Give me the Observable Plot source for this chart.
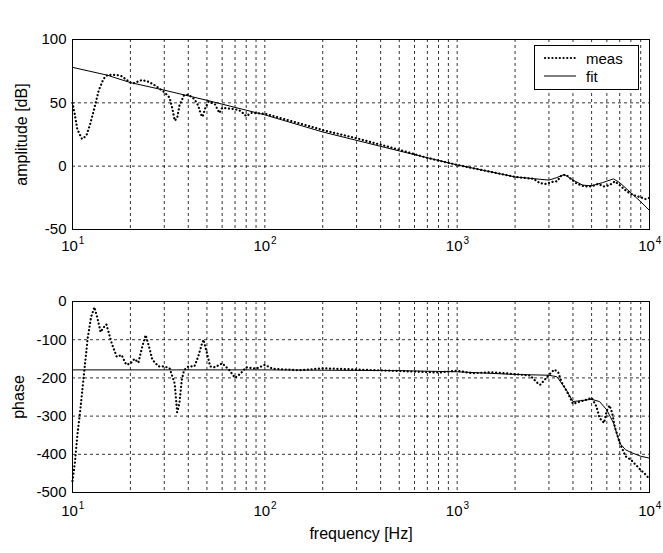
<!DOCTYPE html>
<html><head><meta charset="utf-8">
<script src="https://cdn.jsdelivr.net/npm/d3@7"></script>
<script src="https://cdn.jsdelivr.net/npm/@observablehq/plot@0.6"></script>
<style>
body{margin:0;background:#fff;font-family:"Liberation Sans",Arial,sans-serif;}
#wrap{position:relative;width:663px;height:553px;overflow:hidden;}
#title{position:absolute;top:3px;left:0;width:721px;text-align:center;font-size:15px;color:#000;}
#top,#bottom{position:absolute;left:0;}
#top{top:0;} #bottom{top:265px;}
#legend{position:absolute;left:534px;top:45px;width:103px;height:43px;border:1px solid #000;background:#fff;font-size:15px;}
#legend .row{position:absolute;left:9px;height:18px;display:flex;align-items:center;}
#legend span{margin-left:10px;}
</style></head>
<body><div id="wrap"><div id="title">CD system</div><div id="top"></div><div id="bottom"></div>
<div id="legend">
 <div class="row" style="top:3px"><svg width="32" height="6"><line x1="1" y1="3" x2="31" y2="3" stroke="#000" stroke-width="2.2" stroke-dasharray="0.1,3.6" stroke-linecap="round"/></svg><span>meas</span></div>
 <div class="row" style="top:21px"><svg width="32" height="6"><line x1="0" y1="3" x2="32" y2="3" stroke="#000" stroke-width="1"/></svg><span>fit</span></div>
</div></div>
<script>
// ---- data ----
const measAmpF = [10,10.3,10.6,11.2,11.8,12.4,13,13.7,14.5,15.2,16,17,18,19,20,21,22,23,25,27,30,32,33,34,35,36,38,40,43,45,46.5,47.5,49,51,55,58,60,65,70,75,80,85,100,150,200,300,500,700,1000,1500,2000,2500,2700,2900,3100,3300,3500,3700,3900,4200,4600,5000,5400,5800,6200,6600,7000,7500,8000,8500,9000,9500,10000];
const measAmpV = [50,40,29,21.5,24,34,46,60,69,72,72,72,71,68.5,66,65.5,67,68,66.5,63.5,58.5,54,46,36,38,48,56,56.5,53,48,41,39,46,51,49,42,46,45.5,45,43.5,39.5,42,41.5,34,28.5,22,13,6.5,1,-4.5,-8.5,-10,-13.5,-14,-12.5,-12,-7,-7,-10,-14,-16,-16,-14,-16,-15,-12,-15,-19,-22,-23.5,-24.5,-26,-25];
const fitAmpF = [10,15,20,30,50,100,200,500,1000,2000,3000,3300,3600,4000,4500,5000,5700,6500,7000,8000,9000,10000];
const fitAmpV = [78,72,66,60,52,40.5,27,12,1,-8.5,-11,-9,-6.5,-11,-15,-15.5,-13,-10,-13,-21,-28,-35];
const measPhF = [10,10.3,10.6,11,11.5,12,12.5,13,13.5,14,14.5,15,15.5,16,17,18,19,20,21,22,23,24,25,26,28,30,32,34,35,36,37,38,40,43,45,47,48,50,52,55,60,65,70,75,80,90,100,110,150,200,300,500,800,1000,1200,1500,2000,2400,2600,2700,2850,3000,3200,3350,3500,3800,4000,4300,4700,5000,5300,5500,5800,6000,6200,6400,6600,7000,7500,8000,8500,9000,9500,10000];
const measPhV = [-470,-420,-350,-280,-185,-95,-40,-15,-45,-80,-68,-60,-85,-110,-145,-140,-165,-163,-150,-160,-120,-88,-118,-152,-170,-170,-175,-215,-290,-265,-205,-180,-170,-170,-145,-112,-100,-135,-170,-172,-162,-178,-200,-188,-172,-176,-166,-176,-180,-175,-178,-182,-186,-181,-188,-185,-190,-194,-212,-218,-205,-192,-178,-185,-212,-244,-268,-263,-257,-252,-275,-305,-318,-285,-272,-292,-328,-370,-405,-414,-428,-441,-452,-465];
const fitPhF = [10,100,500,1000,2000,3000,3300,3700,4000,4500,5000,5500,6000,6500,7000,7500,8000,9000,10000];
const fitPhV = [-179,-179,-181,-184,-191,-193,-197,-232,-262,-259,-256,-262,-284,-318,-371,-388,-395,-405,-410];
const decades = [10,100,1000,10000];
const decadeExp = ["1","2","3","4"];
const ampTicks = [-50,0,50,100];
const phaseTicks = [-500,-400,-300,-200,-100,0];
const seriesNames = ["meas","fit"];

const toRows = (F,V) => F.map((f,i)=>({f, v:V[i]}));
const xGrid = [];
for (const d of [10,100,1000]) for (let k=2;k<=10;k++) { const g=d*k; if (g<10000) xGrid.push(g); }

const font = "'Liberation Sans', Arial, sans-serif";
function panel({height, mt, mb, yDomain, yTicks, yLabel, labelShift, meas, fit, xLabel, labelDy}) {
  const marks = [
    Plot.ruleX(xGrid, {stroke:"#000", strokeWidth:0.8, strokeDasharray:"3,3"}),
    Plot.ruleY(yTicks.slice(1,-1), {stroke:"#000", strokeWidth:0.8, strokeDasharray:"3,3"}),
    Plot.line(toRows(fit.F, fit.V), {x:"f", y:"v", stroke:"#000", strokeWidth:1}),
    Plot.line(toRows(meas.F, meas.V), {x:"f", y:"v", stroke:"#000", strokeWidth:2.2, strokeDasharray:"0.1,3.6", strokeLinecap:"round"}),
    Plot.frame({stroke:"#000", strokeWidth:1}),
    Plot.axisY(yTicks, {tickSize:0, tickPadding:6, label:null, fontSize:15, tickFormat:d=>String(d)}),
    Plot.text(decades, {x:d=>d, text:()=> "10", frameAnchor:"bottom", dy:labelDy, dx:-3, fontSize:15}),
    Plot.text(decades, {x:d=>d, text:(d,i)=>decadeExp[i], frameAnchor:"bottom", dy:labelDy-7, dx:9, fontSize:10}),
    Plot.text([yLabel], {frameAnchor:"left", textAnchor:"middle", rotate:-90, dx:labelShift, fontSize:16})
  ];
  if (xLabel) marks.push(Plot.text([xLabel], {frameAnchor:"bottom", dy:46, fontSize:16}));
  return Plot.plot({
    width:663, height, marginLeft:72, marginRight:14, marginTop:mt, marginBottom:mb,
    style:{fontFamily:font, color:"#000", background:"#fff"},
    x:{type:"log", domain:[10,10000], axis:null},
    y:{domain:yDomain, axis:null},
    marks
  });
}
document.getElementById("top").append(panel({height:265, mt:39, mb:36, yDomain:[-50,100], yTicks:ampTicks, yLabel:"amplitude [dB]", labelShift:-51,
  meas:{F:measAmpF,V:measAmpV}, fit:{F:fitAmpF,V:fitAmpV}, labelDy:21}));
document.getElementById("bottom").append(panel({height:288, mt:36, mb:61, yDomain:[-500,0], yTicks:phaseTicks, yLabel:"phase", labelShift:-54,
  meas:{F:measPhF,V:measPhV}, fit:{F:fitPhF,V:fitPhV}, xLabel:"frequency [Hz]", labelDy:23}));
</script></body></html>
